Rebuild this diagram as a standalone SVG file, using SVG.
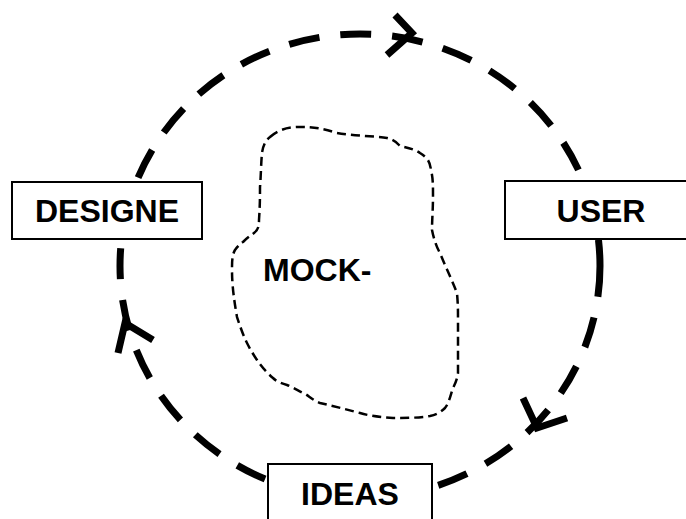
<svg xmlns="http://www.w3.org/2000/svg" width="686" height="519" viewBox="0 0 686 519">
<style>
.ring{fill:none;stroke:#000;stroke-width:7;stroke-dasharray:31 21}
.arrow{fill:none;stroke:#000;stroke-width:7;stroke-linejoin:miter}
.blob{fill:none;stroke:#000;stroke-width:2.5;stroke-dasharray:9 5}
.box{fill:#fff;stroke:#000;stroke-width:2}
.lbl{font-family:"Liberation Sans",Arial,sans-serif;font-weight:bold;font-size:32px;fill:#000}
</style>
<g id="connectors">
<ellipse class="ring" cx="360" cy="266" rx="240" ry="232"/>
<polyline class="arrow" points="395,15 412,33 387,55"/>
<polyline class="arrow" points="118,353 125,323 153,340"/>
<polyline class="arrow" points="523,398 537,428 567,418"/>
</g>
<g id="mock">
<path class="blob" d="M270,137 C280,128 292,127 300,127 C315,127 325,129 337,133 C355,136 375,136 387,138 C395,140 398,144 400,146 C410,148 416,150 420,153 C428,158 430,162 431,170 C433,178 433,185 433,195 C433,210 432,220 432,230 C434,240 437,248 440,253 C446,268 452,280 457,293 C458,305 458,310 458,320 C458,340 458,360 458,373 C457,380 455,384 453,388 C450,397 449,403 445,408 C440,413 435,415 430,416 C418,418 405,418 393,418 C380,417 370,416 360,413 C345,409 333,406 320,403 C312,400 307,394 303,393 C297,390 292,387 287,385 C280,383 276,381 273,378 C266,372 261,366 257,360 C253,354 250,349 247,343 C243,335 240,326 237,317 C234,300 232,285 232,270 C232,262 232,255 235,250 C238,246 240,244 243,242 C247,238 250,236 254,233 C258,230 259,227 259,220 C260,205 260,195 260,187 C261,175 261,163 262,153 C263,145 266,140 270,137 Z"/>
<text class="lbl" x="263" y="281">MOCK-</text>
</g>
<g id="designe">
<rect class="box" x="12" y="182" width="190" height="57"/>
<text class="lbl" x="107" y="222" text-anchor="middle">DESIGNE</text>
</g>
<g id="user">
<rect class="box" x="505" y="181" width="200" height="58"/>
<text class="lbl" x="601" y="222" text-anchor="middle">USER</text>
</g>
<g id="ideas">
<rect class="box" x="268" y="464" width="164" height="70"/>
<text class="lbl" x="350" y="505" text-anchor="middle">IDEAS</text>
</g>
</svg>
